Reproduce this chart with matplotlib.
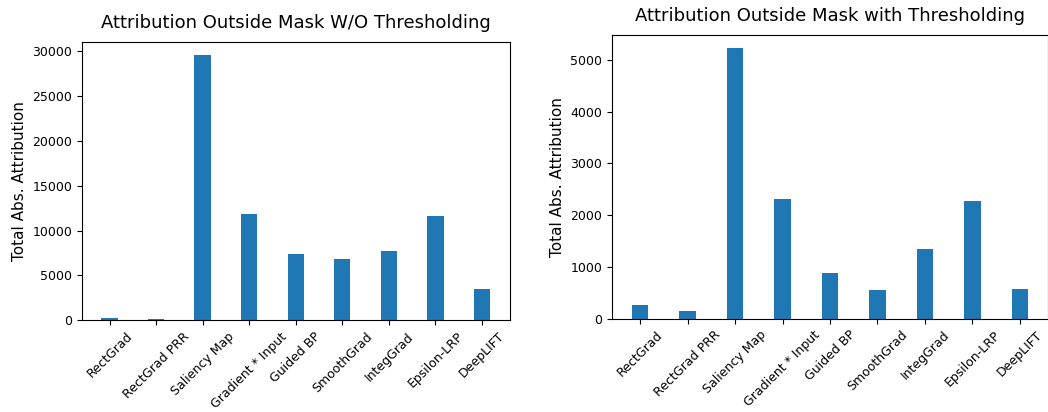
import matplotlib
matplotlib.use("Agg")
import matplotlib.pyplot as plt
import numpy as np

methods = ["RectGrad", "RectGrad PRR", "Saliency Map", "Gradient * Input",
           "Guided BP", "SmoothGrad", "IntegGrad", "Epsilon-LRP", "DeepLIFT"]
no_threshold = [220, 110, 29600, 11820, 7360, 6880, 7730, 11640, 3490]
with_threshold = [258, 155, 5220, 2310, 890, 561, 1342, 2265, 574]

titles = ["Attribution Outside Mask W/O Thresholding",
          "Attribution Outside Mask with Thresholding"]
ylabel = "Total Abs. Attribution"

fig = plt.figure(figsize=(10.48, 4.12), dpi=100)
ax1 = fig.add_axes([0.0782, 0.2226, 0.408, 0.676])
ax2 = fig.add_axes([0.584, 0.2265, 0.416, 0.6886])

x = np.arange(len(methods))
for ax, vals, title in [(ax1, no_threshold, titles[0]), (ax2, with_threshold, titles[1])]:
    ax.bar(x, vals, width=0.35, color="#1f77b4")
    ax.set_xticks(x)
    ax.set_xticklabels(methods, rotation=45, fontsize=9)
    ax.tick_params(axis="y", labelsize=9)
    ax.set_ylabel(ylabel, fontsize=11)
    ax.set_title(title, fontsize=13, pad=10)

fig.savefig("out.png", dpi=100)
